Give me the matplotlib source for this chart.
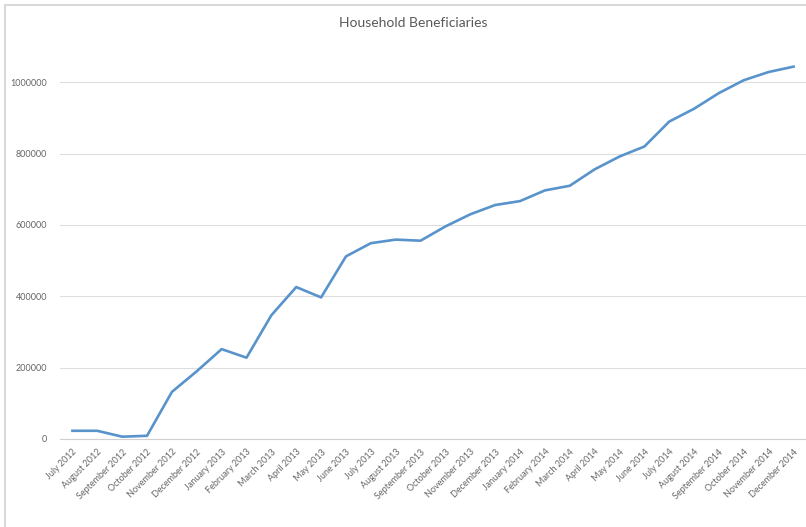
import matplotlib
matplotlib.use("Agg")
import matplotlib.pyplot as plt
from matplotlib.patches import Rectangle

months = [
    "July 2012", "August 2012", "September 2012", "October 2012", "November 2012",
    "December 2012", "January 2013", "February 2013", "March 2013", "April 2013",
    "May 2013", "June 2013", "July 2013", "August 2013", "September 2013",
    "October 2013", "November 2013", "December 2013", "January 2014", "February 2014",
    "March 2014", "April 2014", "May 2014", "June 2014", "July 2014",
    "August 2014", "September 2014", "October 2014", "November 2014", "December 2014",
]
beneficiaries = [
    23000, 23000, 6500, 9000, 132000,
    190000, 252000, 228000, 347000, 426000,
    397000, 512000, 549000, 559000, 556000,
    596000, 630000, 656000, 667000, 697000,
    710000, 756000, 792000, 820000, 890000,
    926000, 970000, 1006000, 1029000, 1044000,
]
y_ticks = [0, 200000, 400000, 600000, 800000, 1000000]

plt.rcParams["font.family"] = ["Lato", "DejaVu Sans"]
text_gray = "#666666"

W, H = 806, 527
fig = plt.figure(figsize=(W / 100, H / 100), dpi=100)

# chart frame
fig.patches.append(Rectangle((5 / W, -0.1), 1.2, (H - 5) / H + 0.1,
                             transform=fig.transFigure, fill=False,
                             edgecolor="#d9d9d9", linewidth=1.5))

ax_left, ax_right = 60 / W, 1.0
ax_bottom = 1 - 439 / H
ax_top = 1 - 11 / H
ax = fig.add_axes([ax_left, ax_bottom, ax_right - ax_left, ax_top - ax_bottom])

x = list(range(len(months)))
ax.plot(x, beneficiaries, color="#5893cb", linewidth=1.9, solid_joinstyle="round")

ax.set_xlim(-0.5, len(months) - 0.5)
ax.set_ylim(0, 1200000)
ax.set_yticks(y_ticks)
ax.set_yticklabels([str(v) for v in y_ticks], fontsize=6.5, color=text_gray)
ax.yaxis.grid(True, color="#dedede", linewidth=0.8)
ax.set_axisbelow(True)

ax.set_xticks(x)
ax.set_xticklabels(months, rotation=45, ha="right", va="top",
                   rotation_mode="anchor", fontsize=6.5, color=text_gray)
ax.tick_params(axis="x", length=0, pad=6)
ax.tick_params(axis="y", length=0, pad=9)

for side in ("top", "right", "left"):
    ax.spines[side].set_visible(False)
ax.spines["bottom"].set_color("#d0d0d0")
ax.spines["bottom"].set_linewidth(0.8)
ax.patch.set_alpha(0)

fig.text(413 / W, 1 - 23 / H, "Household Beneficiaries", ha="center", va="center",
         fontsize=10, color="#595959")

fig.savefig("out.png", dpi=100)
